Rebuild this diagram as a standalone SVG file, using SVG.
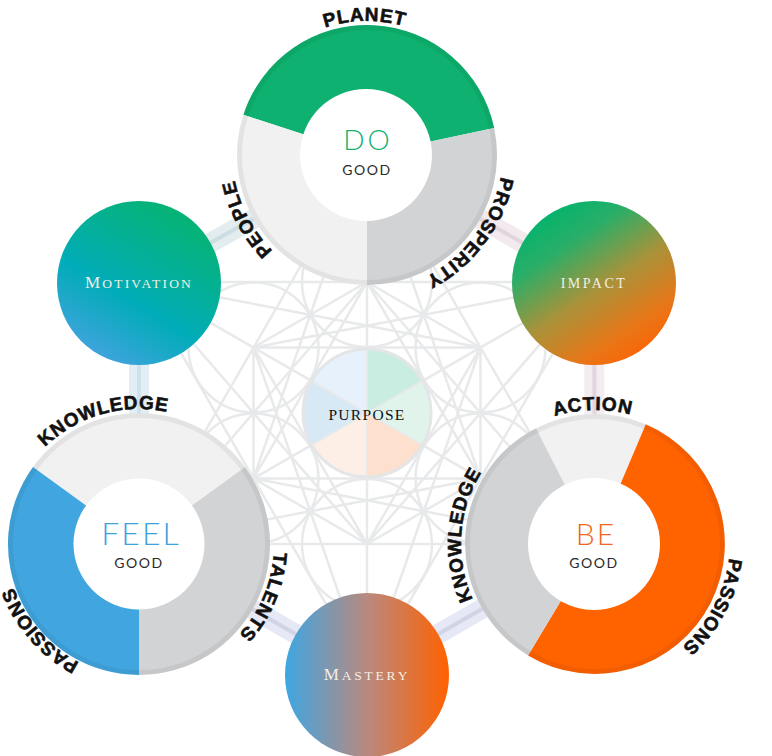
<svg xmlns="http://www.w3.org/2000/svg" width="772" height="756" viewBox="0 0 772 756">
<defs>
<style>
.bg{fill:none;stroke:#e8e9ea;stroke-width:2.5}
.band{stroke-width:20;fill:none}
.bline{stroke-width:4;fill:none}
.lbl{font-family:"Liberation Sans",Arial,sans-serif;font-weight:bold;font-size:19px;letter-spacing:0.8px;fill:#111;stroke:#111;stroke-width:0.6}
.big{font-family:Lato,"Noto Sans",sans-serif;font-weight:300;text-anchor:middle}
.good{font-family:Lato,"Noto Sans",sans-serif;font-size:14px;letter-spacing:1.5px;fill:#2a2a2a;text-anchor:middle}
.pap{font-family:"Liberation Serif","Times New Roman",serif;text-anchor:middle}
.white{fill:#fff}
.rim{fill:none;stroke:#000;stroke-opacity:0.055;stroke-width:5}
.lg{fill:#f1f1f2}
.dg{fill:#d1d3d4}
.pw{stroke:#e8e9ea;stroke-width:2}
</style>
<linearGradient id="gMot" x1="0.8" y1="0" x2="0.2" y2="1">
<stop offset="0" stop-color="#06b46b"/>
<stop offset="0.45" stop-color="#03afa4"/>
<stop offset="0.6" stop-color="#00acb8"/>
<stop offset="1" stop-color="#4aa2e3"/>
</linearGradient>
<linearGradient id="gImp" x1="0.2" y1="0.1" x2="0.8" y2="1">
<stop offset="0" stop-color="#07b36c"/>
<stop offset="0.2" stop-color="#2aae68"/>
<stop offset="0.5" stop-color="#a8923a"/>
<stop offset="0.8" stop-color="#ea7516"/>
<stop offset="1" stop-color="#ff6000"/>
</linearGradient>
<linearGradient id="gMas" x1="0" y1="0" x2="1" y2="0">
<stop offset="0" stop-color="#3ea6e2"/>
<stop offset="0.5" stop-color="#b9897f"/>
<stop offset="1" stop-color="#ff6100"/>
</linearGradient>
<path id="tPlanet" d="M369.34 288.98A134 134 0 1 1 364.66 21.02A134 134 0 1 1 369.34 288.98"/>
<path id="tPeople" d="M485.3 92.1A134 134 0 1 1 248.7 217.9A134 134 0 1 1 485.3 92.1"/>
<path id="tProsp" d="M260 74.4A134 134 0 1 1 474 235.6A134 134 0 1 1 260 74.4"/>
<path id="tFKnow" d="M176.2 673.8A135 135 0 1 1 101.8 414.2A135 135 0 1 1 176.2 673.8"/>
<path id="tTal" d="M14.7 491.3A135 135 0 1 1 263.3 596.7A135 135 0 1 1 14.7 491.3"/>
<path id="tFPass" d="M238.6 457.4A132 132 0 1 1 39.4 630.6A132 132 0 1 1 238.6 457.4"/>
<path id="tAct" d="M597.34 677.98A134 134 0 1 1 592.66 410.02A134 134 0 1 1 597.34 677.98"/>
<path id="tBKnow" d="M728.7 553.35A134 134 0 1 1 461.3 534.65A134 134 0 1 1 728.7 553.35"/>
<path id="tBPass" d="M476.7 481.1A134 134 0 1 1 713.3 606.9A134 134 0 1 1 476.7 481.1"/>
</defs>
<rect width="772" height="756" fill="#fff"/>
<g id="background">
<path class="bg" d="M367 151L367 675M594 282L140 544M594 544L140 282
M367 282L480.5 347.5M367 282L480.5 478.5M367 282L253.5 478.5M367 282L253.5 347.5M480.5 347.5L480.5 478.5M480.5 347.5L367 544M480.5 347.5L253.5 347.5M480.5 478.5L367 544M480.5 478.5L253.5 478.5M367 544L253.5 478.5M367 544L253.5 347.5M253.5 478.5L253.5 347.5
M367 151L594 282M367 151L594 544M367 151L140 544M367 151L140 282M594 282L594 544M594 282L367 675M594 282L140 282M594 544L367 675M594 544L140 544M367 675L140 544M367 675L140 282M140 544L140 282
M367 282L594 544M367 282L140 544M480.5 347.5L367 675M480.5 347.5L140 282M480.5 478.5L140 544M480.5 478.5L367 151M367 544L140 282M367 544L594 282M253.5 478.5L367 151M253.5 478.5L594 544M253.5 347.5L594 282M253.5 347.5L367 675"/>
<circle class="bg" cx="367" cy="282" r="65"/>
<circle class="bg" cx="480.5" cy="347.5" r="65"/>
<circle class="bg" cx="480.5" cy="478.5" r="65"/>
<circle class="bg" cx="367" cy="544" r="65"/>
<circle class="bg" cx="253.5" cy="478.5" r="65"/>
<circle class="bg" cx="253.5" cy="347.5" r="65"/>
</g>
<g id="connectors">
<path class="band" stroke="#e3ecef" d="M367 155L139 283"/>
<path class="bline" stroke="#cddde3" d="M367 155L139 283"/>
<path class="band" stroke="#e2eef4" d="M139 283L139 544"/>
<path class="bline" stroke="#cfe1eb" d="M139 283L139 544"/>
<path class="band" stroke="#f2eaee" d="M367 155L594 283"/>
<path class="bline" stroke="#e2d6dd" d="M367 155L594 283"/>
<path class="band" stroke="#f3ecf0" d="M594 283L595 544"/>
<path class="bline" stroke="#e2d6de" d="M594 283L595 544"/>
<path class="band" stroke="#e6e9f5" d="M139 544L367 675"/>
<path class="bline" stroke="#d0d4e4" d="M139 544L367 675"/>
<path class="band" stroke="#e6e9f5" d="M367 675L595 544"/>
<path class="bline" stroke="#d0d4e4" d="M367 675L595 544"/>
</g>
<g id="node-purpose">
<path class="pw" fill="#c9ede0" d="M367 413L367 349A64 64 0 0 1 422.4 381Z"/>
<path class="pw" fill="#e0f4ec" d="M367 413L422.4 381A64 64 0 0 1 422.4 445Z"/>
<path class="pw" fill="#fde0cd" d="M367 413L422.4 445A64 64 0 0 1 367 477Z"/>
<path class="pw" fill="#fdefe6" d="M367 413L367 477A64 64 0 0 1 311.6 445Z"/>
<path class="pw" fill="#d8e9f6" d="M367 413L311.6 445A64 64 0 0 1 311.6 381Z"/>
<path class="pw" fill="#e7f1fb" d="M367 413L311.6 381A64 64 0 0 1 367 349Z"/>
<circle cx="367" cy="413" r="64" fill="none" stroke="#e4e5e6" stroke-width="3"/>
<text class="pap" x="367" y="420" font-size="15.5" letter-spacing="1.3" fill="#111">PURPOSE</text>
</g>
<g id="node-motivation">
<circle cx="139" cy="283" r="82" fill="url(#gMot)"/>
<text class="pap" x="139" y="288" font-size="13.5" letter-spacing="2.2" fill="#f4efe4"><tspan font-size="17">M</tspan>OTIVATION</text>
</g>
<g id="node-impact">
<circle cx="594" cy="283" r="82" fill="url(#gImp)"/>
<text class="pap" x="594" y="288" font-size="14" letter-spacing="2.5" fill="#f4efe4">IMPACT</text>
</g>
<g id="node-mastery">
<circle cx="367" cy="675" r="82" fill="url(#gMas)"/>
<text class="pap" x="367" y="680" font-size="13.5" letter-spacing="2.8" fill="#f4efe4"><tspan font-size="17">M</tspan>ASTERY</text>
</g>
<g id="node-do">
<path fill="#0eb16f" d="M367 155L243.4 114.8A130 130 0 0 1 494.2 128Z"/>
<path class="dg" d="M367 155L494.2 128A130 130 0 0 1 367 285Z"/>
<path class="lg" d="M367 155L367 285A130 130 0 0 1 243.4 114.8Z"/>
<circle class="rim" cx="367" cy="155" r="127.5"/>
<circle class="white" cx="366" cy="155" r="66"/>
<text class="big" x="368" y="150" font-size="28" letter-spacing="3" fill="#12b06f">DO</text>
<text class="good" x="367" y="175">GOOD</text>
<text class="lbl"><textPath href="#tPlanet" startOffset="50%" text-anchor="middle">PLANET</textPath></text>
<text class="lbl"><textPath href="#tPeople" startOffset="50%" text-anchor="middle">PEOPLE</textPath></text>
<text class="lbl"><textPath href="#tProsp" startOffset="50%" text-anchor="middle">PROSPERITY</textPath></text>
</g>
<g id="node-feel">
<path class="lg" d="M139 544L33 467A131 131 0 0 1 245 467Z"/>
<path class="dg" d="M139 544L245 467A131 131 0 0 1 139 675Z"/>
<path fill="#41a6df" d="M139 544L139 675A131 131 0 0 1 33 467Z"/>
<circle class="rim" cx="139" cy="544" r="128.5"/>
<circle class="white" cx="139" cy="544" r="65.5"/>
<text class="big" x="141" y="545" font-size="32" letter-spacing="2" fill="#3da2dc">FEEL</text>
<text class="good" x="139" y="568">GOOD</text>
<text class="lbl"><textPath href="#tFKnow" startOffset="50%" text-anchor="middle">KNOWLEDGE</textPath></text>
<text class="lbl"><textPath href="#tTal" startOffset="50%" text-anchor="middle">TALENTS</textPath></text>
<text class="lbl" font-size="17" letter-spacing="0.3"><textPath href="#tFPass" startOffset="50%" text-anchor="middle">PASSIONS</textPath></text>
</g>
<g id="node-be">
<path class="lg" d="M595 544L536 428.2A130 130 0 0 1 645.8 424.3Z"/>
<path fill="#ff6300" d="M595 544L645.8 424.3A130 130 0 1 1 528 655.4Z"/>
<path class="dg" d="M595 544L528 655.4A130 130 0 0 1 536 428.2Z"/>
<circle class="rim" cx="595" cy="544" r="127.5"/>
<circle class="white" cx="594" cy="544" r="66"/>
<text class="big" x="596" y="545" font-size="30" letter-spacing="2" fill="#f26522">BE</text>
<text class="good" x="594" y="568">GOOD</text>
<text class="lbl"><textPath href="#tAct" startOffset="50%" text-anchor="middle">ACTION</textPath></text>
<text class="lbl"><textPath href="#tBKnow" startOffset="50%" text-anchor="middle">KNOWLEDGE</textPath></text>
<text class="lbl"><textPath href="#tBPass" startOffset="50%" text-anchor="middle">PASSIONS</textPath></text>
</g>
</svg>
